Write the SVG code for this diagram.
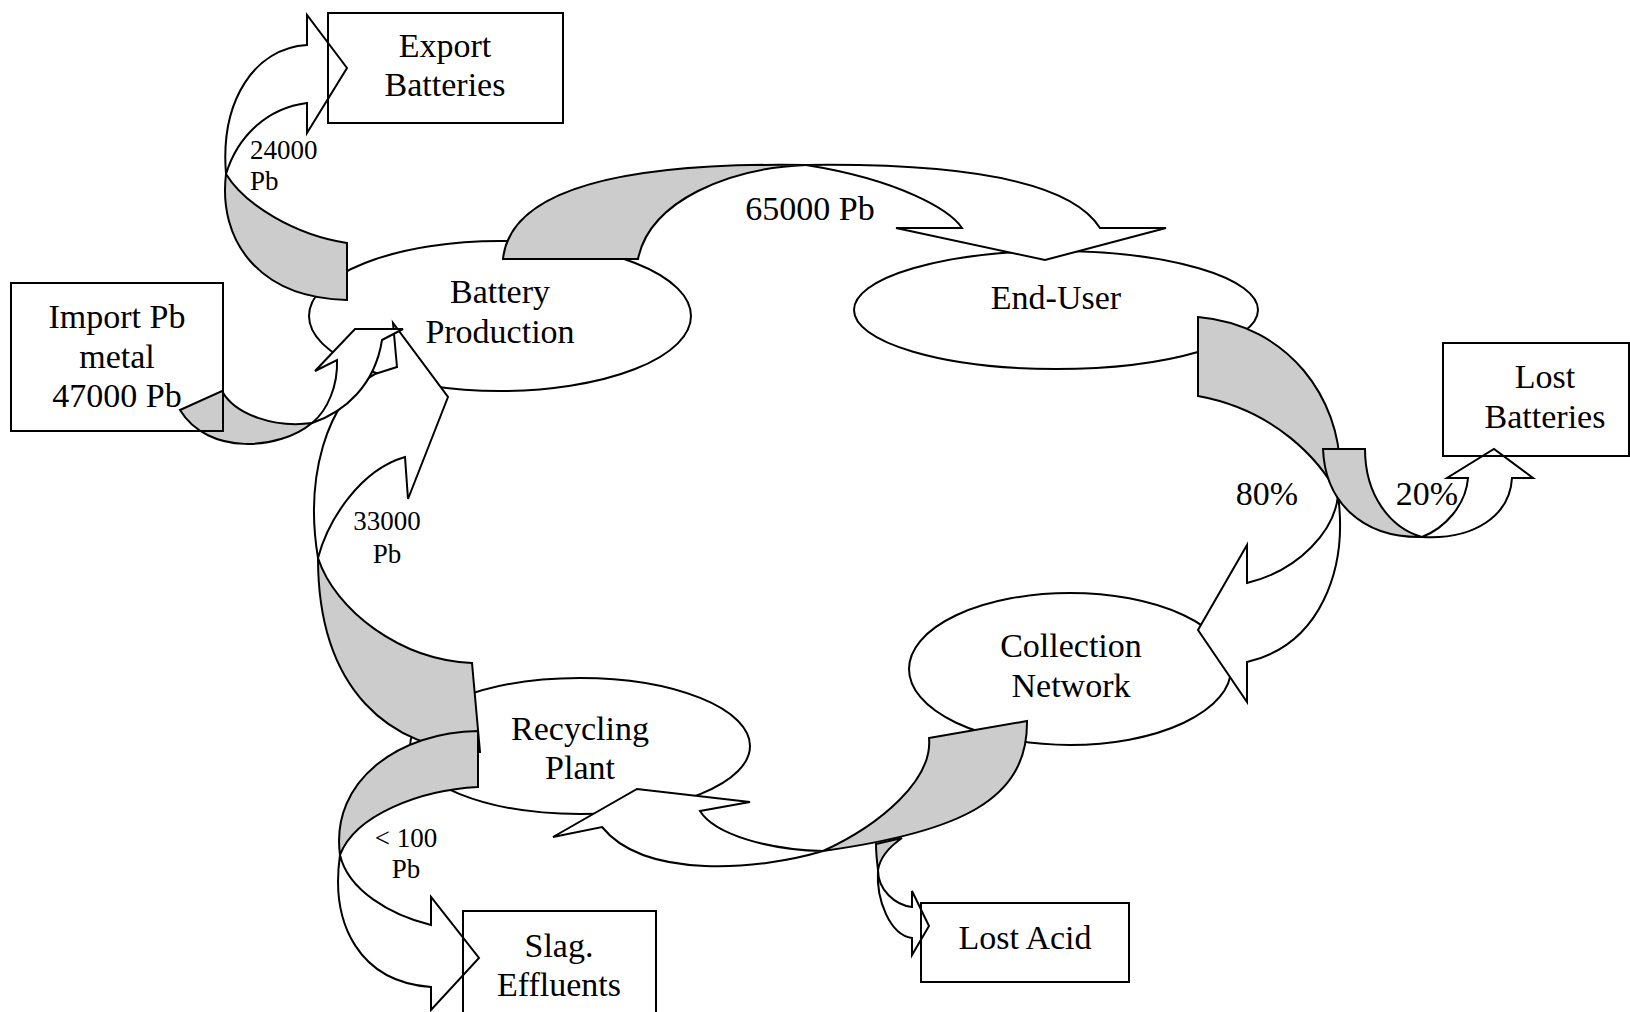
<svg xmlns="http://www.w3.org/2000/svg" width="1630" height="1012" viewBox="0 0 1630 1012">
<style>
.ell{fill:#fff;stroke:#000;stroke-width:2}
.box{fill:none;stroke:#000;stroke-width:2}
.sh{fill:#cccccc;stroke:#000;stroke-width:2;stroke-linejoin:miter}
.wh{fill:#fff;stroke:#000;stroke-width:2;stroke-linejoin:miter}
text{font-family:"Liberation Serif","Times New Roman",serif;fill:#000}
.big{font-size:34px;text-anchor:middle}
.sm{font-size:27px}
.smc{font-size:27px;text-anchor:middle}
</style>
<rect width="1630" height="1012" fill="#fff"/>
<g id="battery-production">
<ellipse class="ell" cx="500" cy="316" rx="191" ry="75"/>
<text class="big" x="500" y="303">Battery</text>
<text class="big" x="500" y="343">Production</text>
</g>
<g id="end-user">
<ellipse class="ell" cx="1056" cy="310" rx="202" ry="59"/>
<text class="big" x="1056" y="309">End-User</text>
</g>
<g id="collection-network">
<ellipse class="ell" cx="1070" cy="669" rx="161" ry="76"/>
<text class="big" x="1071" y="657">Collection</text>
<text class="big" x="1071" y="697">Network</text>
</g>
<g id="recycling-plant">
<ellipse class="ell" cx="580" cy="746" rx="170" ry="68"/>
<text class="big" x="580" y="740">Recycling</text>
<text class="big" x="580" y="779">Plant</text>
</g>
<g id="connectors">
<g id="to-export">
<path class="sh" d="M347,243 C295,235 245,205 226,174 C218,240 258,298 347,300 Z"/>
<path class="wh" d="M226,174 C220,100 255,48 307,45 L307,15 L347,68 L307,133 L307,103 C268,108 238,135 226,174 Z"/>
</g>
<g id="to-end-user">
<path class="sh" d="M503,259 C510,190 620,162 806,165 C730,168 650,200 638,259 Z"/>
<path class="wh" d="M806,165 C960,163 1070,180 1100,228 L1166,228 L1045,260 L896,228 L962,228 C950,210 900,180 806,165 Z"/>
</g>
<g id="to-collection">
<path class="sh" d="M1198,317 C1290,325 1340,400 1340,470 L1338,495 C1320,460 1275,410 1198,396 Z"/>
<path class="wh" d="M1338,495 C1348,570 1320,645 1247,662 L1247,702 L1198,630 L1247,545 L1247,583 C1300,570 1335,530 1338,495 Z"/>
</g>
<g id="to-lost-batteries">
<path class="sh" d="M1323,449 L1365,449 C1365,495 1390,528 1422,537 C1360,538 1325,500 1323,449 Z"/>
<path class="wh" d="M1422,537 C1475,540 1510,515 1512,478 L1533,478 L1494,449 L1447,478 L1468,478 C1466,505 1445,528 1422,537 Z"/>
</g>
<g id="to-recycling">
<path class="sh" d="M929,738 L1027,721 C1028,800 960,832 823,851 C880,825 933,780 929,738 Z"/>
<path class="wh" d="M823,851 C760,870 645,880 602,827 L553,837 L637,789 L750,802 L700,811 C715,835 770,850 823,851 Z"/>
</g>
<g id="to-lost-acid">
<path class="sh" d="M876,844 L902,838 C889,847 880,858 878,870 C877,862 876,853 876,844 Z"/>
<path class="wh" d="M878,870 C876,900 890,935 912,938 L912,955 L929,926 L912,891 L912,907 C895,905 878,890 878,870 Z"/>
</g>
<g id="to-battery-production">
<path class="sh" d="M472,663 L480,752 C390,750 318,690 318,558 C335,610 400,660 472,663 Z"/>
<path class="wh" d="M318,558 C305,480 325,400 375,374 L397,367 L393,323 L448,397 L408,499 L405,457 C360,470 328,520 318,558 Z"/>
</g>
<g id="to-slag">
<path class="sh" d="M478,731 L478,787 C420,790 355,815 340,855 C330,780 400,732 478,731 Z"/>
<path class="wh" d="M340,855 C330,925 360,982 431,987 L431,1010 L479,958 L431,897 L431,925 C390,915 348,890 340,855 Z"/>
</g>
<g id="from-import">
<path class="sh" d="M180,410 L222,391 C235,415 275,428 312,423 C280,450 208,456 180,410 Z"/>
<path class="wh" d="M312,423 C345,412 375,385 382,340 L403,329 L355,329 L315,371 L337,360 C338,385 328,410 312,423 Z"/>
</g>
<text class="sm" x="250" y="159">24000</text>
<text class="sm" x="250" y="190">Pb</text>
<text class="big" x="810" y="220">65000 Pb</text>
<text class="big" x="1267" y="505">80%</text>
<text class="big" x="1427" y="505">20%</text>
<text class="smc" x="387" y="530">33000</text>
<text class="smc" x="387" y="563">Pb</text>
<text class="smc" x="406" y="847">&lt; 100</text>
<text class="smc" x="406" y="878">Pb</text>
</g>
<g id="export-batteries">
<rect class="box" x="328" y="13" width="235" height="110"/>
<text class="big" x="445" y="57">Export</text>
<text class="big" x="445" y="96">Batteries</text>
</g>
<g id="import-pb-metal">
<rect class="box" x="11" y="283" width="212" height="148"/>
<text class="big" x="117" y="328">Import Pb</text>
<text class="big" x="117" y="368">metal</text>
<text class="big" x="117" y="407">47000 Pb</text>
</g>
<g id="lost-batteries">
<rect class="box" x="1443" y="343" width="186" height="113"/>
<text class="big" x="1545" y="388">Lost</text>
<text class="big" x="1545" y="428">Batteries</text>
</g>
<g id="lost-acid">
<rect class="box" x="921" y="903" width="208" height="79"/>
<text class="big" x="1025" y="949">Lost Acid</text>
</g>
<g id="slag-effluents">
<rect class="box" x="463" y="911" width="193" height="110"/>
<text class="big" x="559" y="957">Slag.</text>
<text class="big" x="559" y="996">Effluents</text>
</g>
</svg>
